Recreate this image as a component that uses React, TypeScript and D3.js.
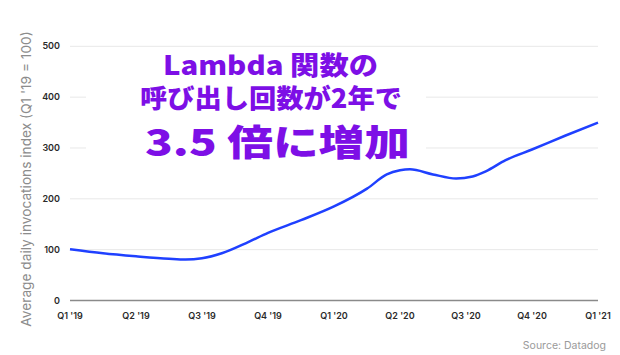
import React, { useRef, useEffect } from 'react';
import * as d3 from 'd3';

const quarterLabels = ["Q1 '19", "Q2 '19", "Q3 '19", "Q4 '19", "Q1 '20", "Q2 '20", "Q3 '20", "Q4 '20", "Q1 '21"];
const yTicks = [0, 100, 200, 300, 400, 500];
// position in quarters since Q1 '19, index value
const seriesQuarter = [0, 0.5, 1, 1.5, 1.75, 2, 2.3, 2.7, 3, 3.5, 4, 4.5, 4.8, 5, 5.15, 5.5, 5.85, 6.1, 6.3, 6.6, 7, 7.5, 8];
const seriesValue = [101, 93, 87, 82, 80.5, 83, 93, 115, 133, 158, 185, 220, 248, 256, 258, 248, 240, 244, 254, 276, 297, 324, 350];
const titleLines = ['Lambda 関数の', '呼び出し回数が2年で', '3.5 倍に増加'];

const W = 620;
const H = 355;

const App = () => {
  const ref = useRef(null);

  useEffect(() => {
    const svg = d3.select(ref.current);
    svg.selectAll('*').remove();

    const x = d3.scaleLinear().domain([0, 8]).range([70, 598]);
    const y = d3.scaleLinear().domain([0, 500]).range([300.5, 46.3]);

    svg.append('rect').attr('width', W).attr('height', H).attr('fill', '#fff');

    // grid
    svg.append('g')
      .selectAll('line')
      .data(yTicks.filter(d => d > 0))
      .join('line')
      .attr('x1', x(0))
      .attr('x2', x(8))
      .attr('y1', d => y(d))
      .attr('y2', d => y(d))
      .attr('stroke', '#e8e8e8')
      .attr('stroke-width', 1);

    // baseline
    svg.append('line')
      .attr('x1', x(0))
      .attr('x2', x(8))
      .attr('y1', y(0))
      .attr('y2', y(0))
      .attr('stroke', '#8a8a8a')
      .attr('stroke-width', 1.5);

    // y tick labels
    svg.append('g')
      .selectAll('text')
      .data(yTicks)
      .join('text')
      .attr('x', 60)
      .attr('y', d => y(d) + 3)
      .attr('text-anchor', 'end')
      .attr('font-family', 'Inter, sans-serif')
      .attr('font-weight', 600)
      .attr('font-size', 9)
      .attr('fill', '#2a2a2a')
      .text(d => d);

    // x tick labels
    svg.append('g')
      .selectAll('text')
      .data(quarterLabels)
      .join('text')
      .attr('x', (d, i) => x(i))
      .attr('y', 319)
      .attr('text-anchor', 'middle')
      .attr('font-family', 'Inter, sans-serif')
      .attr('font-weight', 600)
      .attr('font-size', 9)
      .attr('fill', '#2a2a2a')
      .text(d => d);

    // y axis title
    svg.append('text')
      .attr('transform', 'translate(31,179) rotate(-90)')
      .attr('text-anchor', 'middle')
      .attr('font-family', 'Inter, sans-serif')
      .attr('font-size', 13.7)
      .attr('fill', '#8c8c8c')
      .text("Average daily invocations index (Q1 '19 = 100)");

    // title backdrop
    svg.append('rect')
      .attr('x', 86)
      .attr('y', 52)
      .attr('width', 340)
      .attr('height', 112)
      .attr('fill', '#fff');

    const pts = seriesQuarter.map((q, i) => [q, seriesValue[i]]);
    svg.append('path')
      .datum(pts)
      .attr('d', d3.line().x(d => x(d[0])).y(d => y(d[1])).curve(d3.curveMonotoneX))
      .attr('fill', 'none')
      .attr('stroke', '#1f40ff')
      .attr('stroke-width', 2.5);

    // title
    const tg = svg.append('g')
      .attr('font-family', "'Noto Sans CJK JP', sans-serif")
      .attr('font-weight', 900)
      .attr('fill', '#7d0fe6');
    tg.append('text').attr('x', 163).attr('y', 75).attr('font-size', 26)
      .attr('textLength', 215).attr('lengthAdjust', 'spacingAndGlyphs').text(titleLines[0]);
    tg.append('text').attr('x', 140).attr('y', 107.5).attr('font-size', 26)
      .attr('textLength', 262).attr('lengthAdjust', 'spacingAndGlyphs').text(titleLines[1]);
    tg.append('text').attr('x', 145).attr('y', 156).attr('font-size', 36)
      .attr('textLength', 265).attr('lengthAdjust', 'spacingAndGlyphs').text(titleLines[2]);

    // source
    svg.append('text')
      .attr('x', 606)
      .attr('y', 349)
      .attr('text-anchor', 'end')
      .attr('font-family', 'Inter, sans-serif')
      .attr('font-size', 10.5)
      .attr('fill', '#9a9a9a')
      .text('Source: Datadog');
  }, []);

  return (
    <div style={{ position: 'absolute', left: 0, top: 0 }}>
      <svg ref={ref} width={W} height={H} style={{ display: 'block' }} />
    </div>
  );
};

export default App;
